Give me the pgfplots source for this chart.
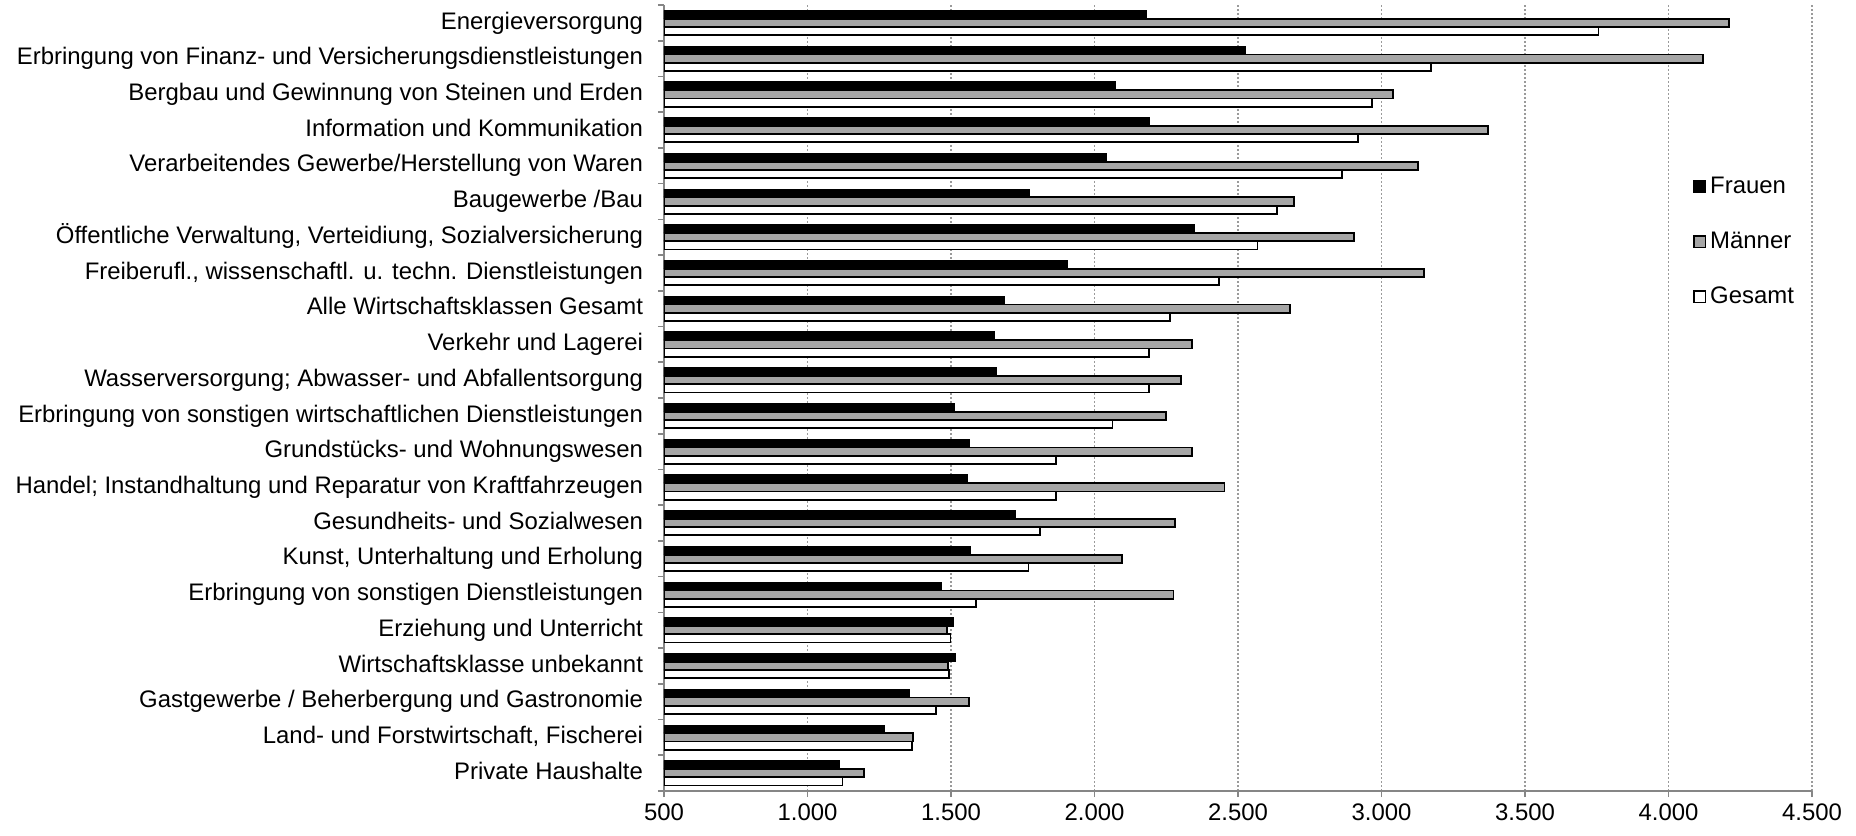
\documentclass[border=0pt]{standalone}
\usepackage{fontspec}
\setmainfont{Liberation Sans}
\usepackage{pgfplots}
\pgfplotsset{compat=1.18}
\definecolor{mgray}{HTML}{A6A6A6}
\definecolor{axgray}{HTML}{868686}
\definecolor{grgray}{HTML}{9A9A9A}
\begin{document}
\begin{tikzpicture}
\begin{axis}[
  name=ax,
  scale only axis,
  width=574bp, height=393bp,
  xbar,
  y dir=reverse,
  xmin=500, xmax=4500,
  ymin=-0.5, ymax=21.5,
  bar width=0.23,
  xtick={500,1000,...,4500},
  minor xtick={500,1000,...,4500},
  ytick={0,...,21},
  minor ytick={-0.5,0.5,...,21.5},
  yticklabels={
    Energieversorgung,
    Erbringung von Finanz- und Versicherungsdienstleistungen,
    Bergbau und Gewinnung von Steinen und Erden,
    Information und Kommunikation,
    Verarbeitendes Gewerbe/Herstellung von Waren,
    Baugewerbe /Bau,
    {Öffentliche Verwaltung, Verteidiung, Sozialversicherung},
    {Freiberufl., wissenschaftl. u. techn. Dienstleistungen},
    Alle Wirtschaftsklassen Gesamt,
    Verkehr und Lagerei,
    Wasserversorgung; Abwasser- und Abfallentsorgung,
    Erbringung von sonstigen wirtschaftlichen Dienstleistungen,
    Grundstücks- und Wohnungswesen,
    Handel; Instandhaltung und Reparatur von Kraftfahrzeugen,
    Gesundheits- und Sozialwesen,
    {Kunst, Unterhaltung und Erholung},
    Erbringung von sonstigen Dienstleistungen,
    Erziehung und Unterricht,
    Wirtschaftsklasse unbekannt,
    Gastgewerbe / Beherbergung und Gastronomie,
    {Land- und Forstwirtschaft, Fischerei},
    Private Haushalte},
  axis x line*=bottom,
  axis y line*=left,
  axis line style={axgray, line width=1bp},
  major tick length=0pt,
  minor tick length=3bp,
  tick align=outside,
  minor tick style={axgray, line width=0.8bp},
  xmajorgrids,
  major grid style={grgray, line width=0.7bp, dash pattern=on 1bp off 1bp},
  /pgf/number format/.cd, 1000 sep={.}, assume math mode=true,
  /pgfplots/.cd,
  tick label style={font=\fontsize{12}{14}\selectfont, text=black},
  xticklabel style={yshift=-3bp},
  yticklabel style={xshift=-7bp, text height=8.8bp, text depth=2.6bp},
  legend style={at={(rel axis cs:0.896,0.789)}, anchor=north west, draw=none, fill=none,
    inner sep=0pt, font=\fontsize{12}{14}\selectfont, row sep=12bp,
    nodes={text height=9bp, text depth=2.5bp, inner sep=2bp},
    /tikz/every even column/.append style={column sep=0pt}},
  legend cell align=left,
  legend image code/.code={\draw[#1, line width=0.8bp] (0bp,-2.9bp) rectangle (5.8bp,2.9bp);},
]
\addplot[fill=black, draw=black, line width=0.6bp, bar shift=-0.23] coordinates {
(2181,0) (2526,1) (2073,2) (2192,3) (2040,4) (1772,5) (2349,6) (1905,7) (1686,8) (1650,9) (1657,10)
(1511,11) (1563,12) (1558,13) (1724,14) (1569,15) (1467,16) (1507,17) (1515,18) (1354,19) (1268,20) (1111,21)};
\addplot[fill=mgray, draw=black, line width=0.9bp, bar shift=0] coordinates {
(4211,0) (4120,1) (3040,2) (3371,3) (3127,4) (2695,5) (2904,6) (3148,7) (2681,8) (2339,9) (2301,10)
(2249,11) (2340,12) (2453,13) (2281,14) (2097,15) (2275,16) (1485,17) (1490,18) (1564,19) (1368,20) (1197,21)};
\addplot[fill=white, draw=black, line width=0.9bp, bar shift=0.23] coordinates {
(3756,0) (3173,1) (2968,2) (2917,3) (2863,4) (2635,5) (2568,6) (2435,7) (2262,8) (2191,9) (2190,10)
(2063,11) (1865,12) (1865,13) (1811,14) (1770,15) (1588,16) (1498,17) (1493,18) (1447,19) (1365,20) (1122,21)};
\legend{Frauen, Männer, Gesamt}
\end{axis}
\pgfresetboundingbox
\path[use as bounding box] ([shift={(-332bp,-22bp)}]ax.south west) rectangle ([shift={(22bp,2.5bp)}]ax.north east);
\end{tikzpicture}
\end{document}
